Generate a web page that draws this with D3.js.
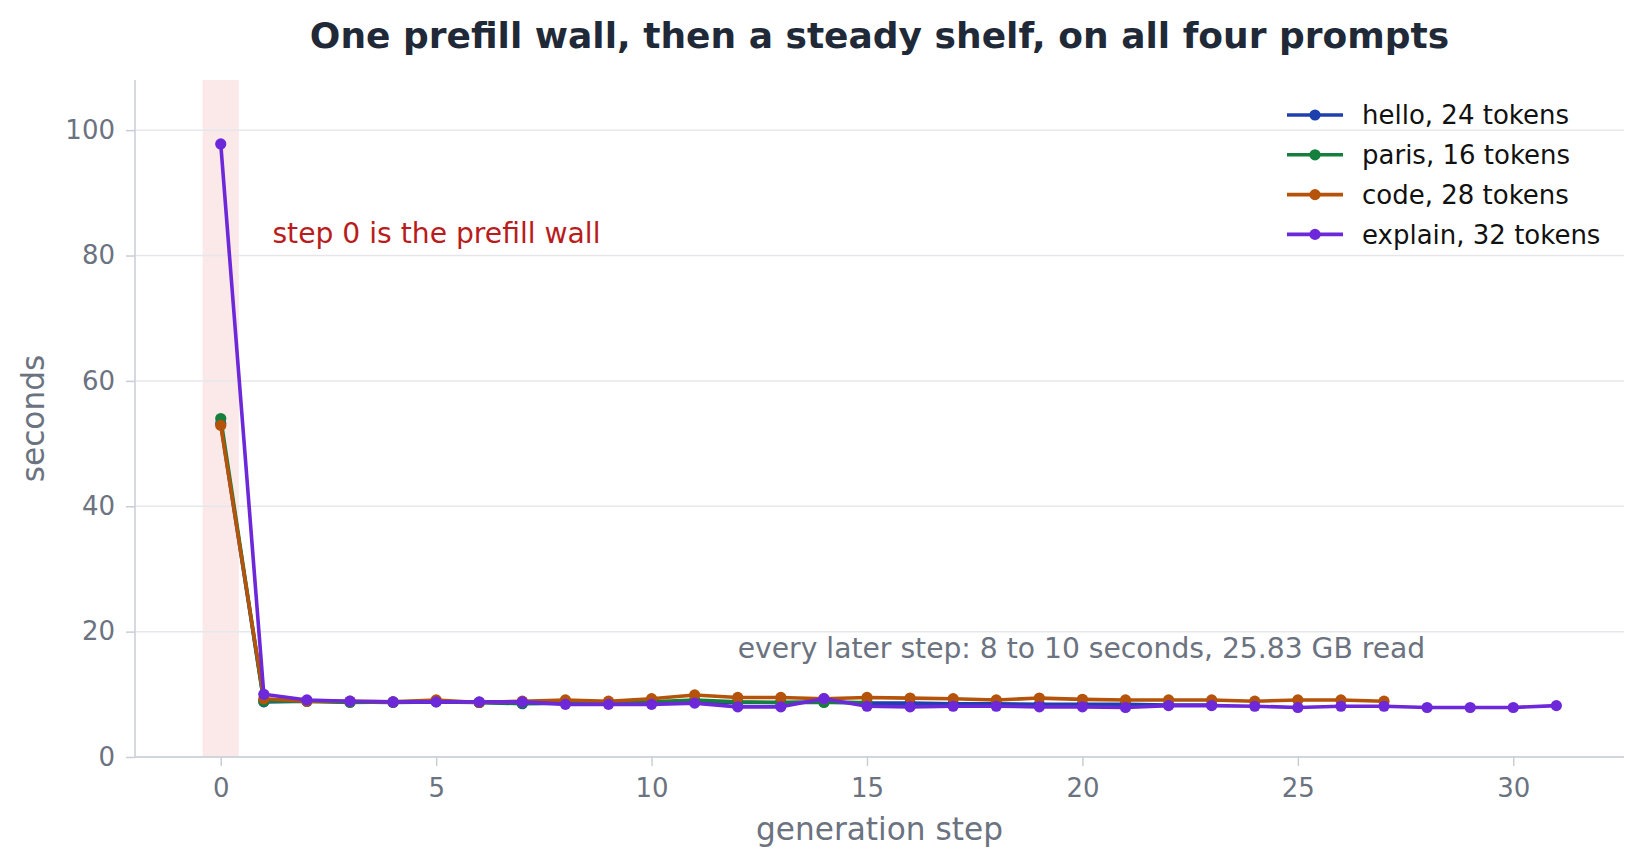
<!DOCTYPE html>
<html>
<head>
<meta charset="utf-8">
<script src="https://cdn.jsdelivr.net/npm/d3@7"></script>
<style>
  body { margin: 0; background: #fff; }
  svg { font-family: "DejaVu Sans", sans-serif; }
</style>
</head>
<body>
<svg id="chart" width="1643" height="868"></svg>
<script>
// seconds per generation step
const hello = [53.2, 8.8, 8.9, 8.8, 8.7, 8.8, 8.7, 8.5, 8.6, 8.6, 8.6, 8.8, 8.7, 8.7, 8.8, 8.6,
  8.6, 8.5, 8.5, 8.4, 8.4, 8.4, 8.3, 8.3];
const paris = [54.0, 8.9, 8.9, 8.7, 8.8, 8.9, 8.7, 8.6, 8.7, 8.6, 8.8, 9.1, 8.8, 8.7, 8.7, 8.7];
const code = [52.9, 9.3, 8.9, 8.9, 8.8, 9.1, 8.7, 8.9, 9.1, 8.9, 9.3, 9.9, 9.5, 9.5, 9.3, 9.5,
  9.4, 9.3, 9.1, 9.4, 9.2, 9.1, 9.1, 9.1, 8.9, 9.1, 9.1, 8.9];
const explain = [97.8, 10.0, 9.1, 8.9, 8.8, 8.8, 8.8, 8.8, 8.4, 8.4, 8.4, 8.6, 8.0, 8.0, 9.3, 8.1,
  8.0, 8.1, 8.1, 8.0, 8.0, 7.9, 8.2, 8.2, 8.1, 7.9, 8.1, 8.1, 7.9, 7.9, 7.9, 8.2];

const seriesNames = ["hello, 24 tokens", "paris, 16 tokens", "code, 28 tokens", "explain, 32 tokens"];
const seriesColors = ["#1e40af", "#15803d", "#b45309", "#6d28d9"];
const xTicks = [0, 5, 10, 15, 20, 25, 30];
const yTicks = [0, 20, 40, 60, 80, 100];

const margin = {top: 80, right: 19, bottom: 111, left: 135};
const W = 1643, H = 868;
const svg = d3.select('#chart');

let x = d3.scaleLinear().domain([-1.99, 32.57]).range([margin.left, W - margin.right]);
let y = d3.scaleLinear().domain([0, 108]).range([H - margin.bottom, margin.top]);

svg.append('rect').attr('width', W).attr('height', H).attr('fill', '#fff');

// prefill band around step 0
svg.append('rect')
  .attr('x', x(-0.42)).attr('width', x(0.42) - x(-0.42))
  .attr('y', y(108)).attr('height', y(0) - y(108))
  .attr('fill', '#dc2626').attr('fill-opacity', 0.1);

// gridlines
svg.append('g').selectAll('line').data(yTicks).join('line')
  .attr('x1', margin.left).attr('x2', W - margin.right)
  .attr('y1', d => y(d)).attr('y2', d => y(d))
  .attr('stroke', '#e5e7eb').attr('stroke-width', 1.5);

// axes
let xAxis = svg.append('g').attr('transform', `translate(0,${y(0)})`)
  .call(d3.axisBottom(x).tickValues(xTicks).tickSize(9).tickPadding(12));
let yAxis = svg.append('g').attr('transform', `translate(${margin.left},0)`)
  .call(d3.axisLeft(y).tickValues(yTicks).tickSize(9).tickPadding(11));

[xAxis, yAxis].forEach(ax => {
  ax.select('.domain').remove();
  ax.selectAll('.tick line').attr('stroke', '#c9ced6').attr('stroke-width', 1.5);
  ax.selectAll('.tick text').attr('fill', '#6b7280').style('font-size', '26px')
    .style('font-family', '"DejaVu Sans", sans-serif');
});
xAxis.selectAll('.tick text').attr('dy', '0.72em');

// spines, left and bottom only
svg.append('line').attr('x1', margin.left).attr('x2', margin.left)
  .attr('y1', margin.top).attr('y2', y(0)).attr('stroke', '#c9ced6').attr('stroke-width', 1.5);
svg.append('line').attr('x1', margin.left).attr('x2', W - margin.right)
  .attr('y1', y(0)).attr('y2', y(0)).attr('stroke', '#c9ced6').attr('stroke-width', 1.5);

// series
let allSeries = [hello, paris, code, explain];
let line = d3.line().x((d, i) => x(i)).y(d => y(d));

allSeries.forEach((values, k) => {
  let g = svg.append('g');
  g.append('path').datum(values)
    .attr('d', line).attr('fill', 'none')
    .attr('stroke', seriesColors[k]).attr('stroke-width', 3.6)
    .attr('stroke-linejoin', 'round');
  g.selectAll('circle').data(values).join('circle')
    .attr('cx', (d, i) => x(i)).attr('cy', d => y(d)).attr('r', 5.6)
    .attr('fill', seriesColors[k]);
});

// annotations
svg.append('text').attr('x', x(1.2)).attr('y', y(82))
  .attr('fill', '#b91c1c').style('font-size', '28.2px')
  .text('step 0 is the prefill wall');
svg.append('text').attr('x', x(12)).attr('y', y(15.8))
  .attr('fill', '#6b7280').style('font-size', '28.2px')
  .text('every later step: 8 to 10 seconds, 25.83 GB read');

// legend
let legend = svg.append('g').attr('transform', 'translate(1287,115)');
seriesNames.forEach((name, k) => {
  let row = legend.append('g').attr('transform', `translate(0,${k * 39.8})`);
  row.append('line').attr('x1', 0).attr('x2', 56)
    .attr('stroke', seriesColors[k]).attr('stroke-width', 3.6);
  row.append('circle').attr('cx', 28).attr('r', 5.6).attr('fill', seriesColors[k]);
  row.append('text').attr('x', 75).attr('dy', '0.36em')
    .attr('fill', '#111').style('font-size', '26px').text(name);
});

// titles
svg.append('text').attr('x', (margin.left + W - margin.right) / 2).attr('y', 48)
  .attr('text-anchor', 'middle').attr('fill', '#1f2937')
  .style('font-size', '36px').style('font-weight', 'bold')
  .text('One prefill wall, then a steady shelf, on all four prompts');
svg.append('text').attr('x', (margin.left + W - margin.right) / 2).attr('y', 840)
  .attr('text-anchor', 'middle').attr('fill', '#6b7280').style('font-size', '31.2px')
  .text('generation step');
svg.append('text').attr('transform', `translate(44,${(margin.top + y(0)) / 2}) rotate(-90)`)
  .attr('text-anchor', 'middle').attr('fill', '#6b7280').style('font-size', '31.2px')
  .text('seconds');
</script>
</body>
</html>
